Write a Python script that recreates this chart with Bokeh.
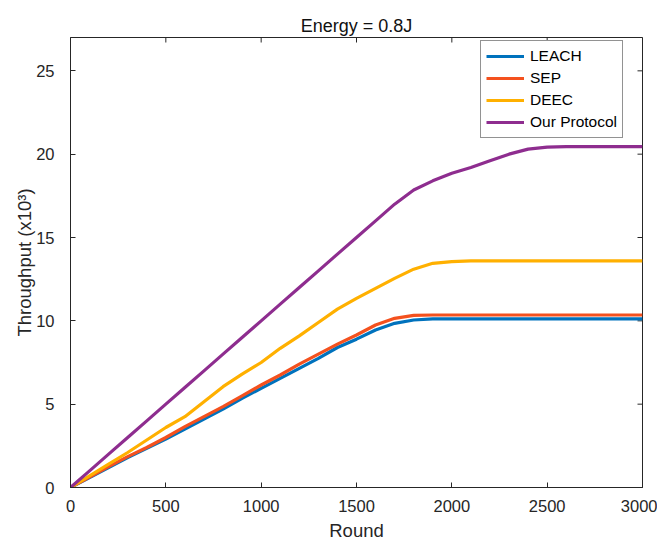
import math
from bokeh.plotting import figure
from bokeh.models import FixedTicker, Range1d, Legend, LegendItem
from bokeh.embed import file_html
from bokeh.resources import INLINE

rounds = [0, 100, 200, 300, 400, 500, 600, 700, 800, 900, 1000, 1100, 1200, 1300,
          1400, 1500, 1600, 1700, 1800, 1900, 2000, 2100, 2200, 2300, 2400, 2500,
          2600, 3000]

leach = [0, 0.6, 1.2, 1.8, 2.35, 2.9, 3.5, 4.1, 4.7, 5.35, 5.95, 6.55, 7.15, 7.75,
         8.4, 8.9, 9.45, 9.85, 10.05, 10.12, 10.12, 10.12, 10.12, 10.12, 10.12, 10.12,
         10.12, 10.12]
sep = [0, 0.62, 1.25, 1.85, 2.4, 3.0, 3.65, 4.25, 4.85, 5.5, 6.15, 6.75, 7.4, 8.0,
       8.6, 9.15, 9.75, 10.15, 10.33, 10.35, 10.35, 10.35, 10.35, 10.35, 10.35, 10.35,
       10.35, 10.35]
deec = [0, 0.7, 1.4, 2.1, 2.85, 3.6, 4.25, 5.15, 6.05, 6.8, 7.5, 8.35, 9.1, 9.9,
        10.7, 11.35, 11.95, 12.55, 13.1, 13.45, 13.55, 13.6, 13.6, 13.6, 13.6, 13.6,
        13.6, 13.6]
ours = [0, 1.0, 2.0, 3.0, 4.0, 5.0, 6.0, 7.0, 8.0, 9.0, 10.0, 11.0, 12.0, 13.0,
        14.0, 15.0, 16.0, 17.0, 17.85, 18.4, 18.85, 19.2, 19.6, 20.0, 20.3, 20.42,
        20.45, 20.45]

names = ["LEACH", "SEP", "DEEC", "Our Protocol"]
colors = ["#0072BD", "#F4511E", "#FFB000", "#8E2D8F"]
x_ticks = [0, 500, 1000, 1500, 2000, 2500, 3000]
y_ticks = [0, 5, 10, 15, 20, 25]
x_max = 3000
y_max = 27

FONT = "Liberation Sans"
AX = "#262626"

p = figure(width=657, height=544, output_backend="svg", toolbar_location=None,
           x_range=Range1d(0, x_max), y_range=Range1d(0, y_max),
           title="Energy = 0.8J")
p.min_border_left = 70
p.min_border_right = 15
p.min_border_top = 37
p.min_border_bottom = 57

p.title.align = "center"
p.title.text_font = FONT
p.title.text_font_size = "18px"
p.title.text_font_style = "normal"
p.title.text_color = "#111111"
p.title.standoff = 4

p.xgrid.visible = False
p.ygrid.visible = False
p.outline_line_color = AX
p.outline_line_width = 1
p.outline_line_alpha = 1

for ax, ticks in ((p.xaxis[0], x_ticks), (p.yaxis[0], y_ticks)):
    ax.ticker = FixedTicker(ticks=ticks)
    ax.major_tick_in = 5
    ax.major_tick_out = 0
    ax.minor_tick_line_color = None
    ax.axis_line_color = AX
    ax.major_tick_line_color = AX
    ax.major_label_text_font = FONT
    ax.major_label_text_font_size = "16.5px"
    ax.major_label_text_color = AX
    ax.axis_label_text_font = FONT
    ax.axis_label_text_font_size = "18.5px"
    ax.axis_label_text_font_style = "normal"
    ax.axis_label_text_color = AX

p.xaxis[0].axis_label = "Round"
p.yaxis[0].axis_label = "Throughput (x10³)"
p.xaxis[0].major_label_standoff = 12
p.xaxis[0].axis_label_standoff = 5
p.yaxis[0].major_label_standoff = 16
p.yaxis[0].axis_label_standoff = -2

# box ticks on the top and right edges (MATLAB "box on" style)
p.scatter(x_ticks, [y_max] * len(x_ticks), marker="dash", size=10, angle=math.pi / 2,
          line_color=AX, line_width=1)
p.scatter([x_max] * len(y_ticks), y_ticks, marker="dash", size=10,
          line_color=AX, line_width=1)

series = [leach, sep, deec, ours]
items = []
for name, ys, c in zip(names, series, colors):
    r = p.line(rounds, ys, line_color=c, line_width=3.2)
    items.append(LegendItem(label=name, renderers=[r]))

legend = Legend(items=items, location=(410, 349))
legend.margin = 0
legend.padding = 5
legend.spacing = 2
legend.label_text_font = FONT
legend.label_text_font_size = "15.5px"
legend.label_text_color = "#000000"
legend.glyph_width = 38
legend.glyph_height = 20
legend.label_height = 20
legend.label_standoff = 6
legend.border_line_color = AX
legend.border_line_width = 1
legend.background_fill_alpha = 1
p.add_layout(legend, "center")

open("out.html", "w").write(file_html(p, INLINE))
